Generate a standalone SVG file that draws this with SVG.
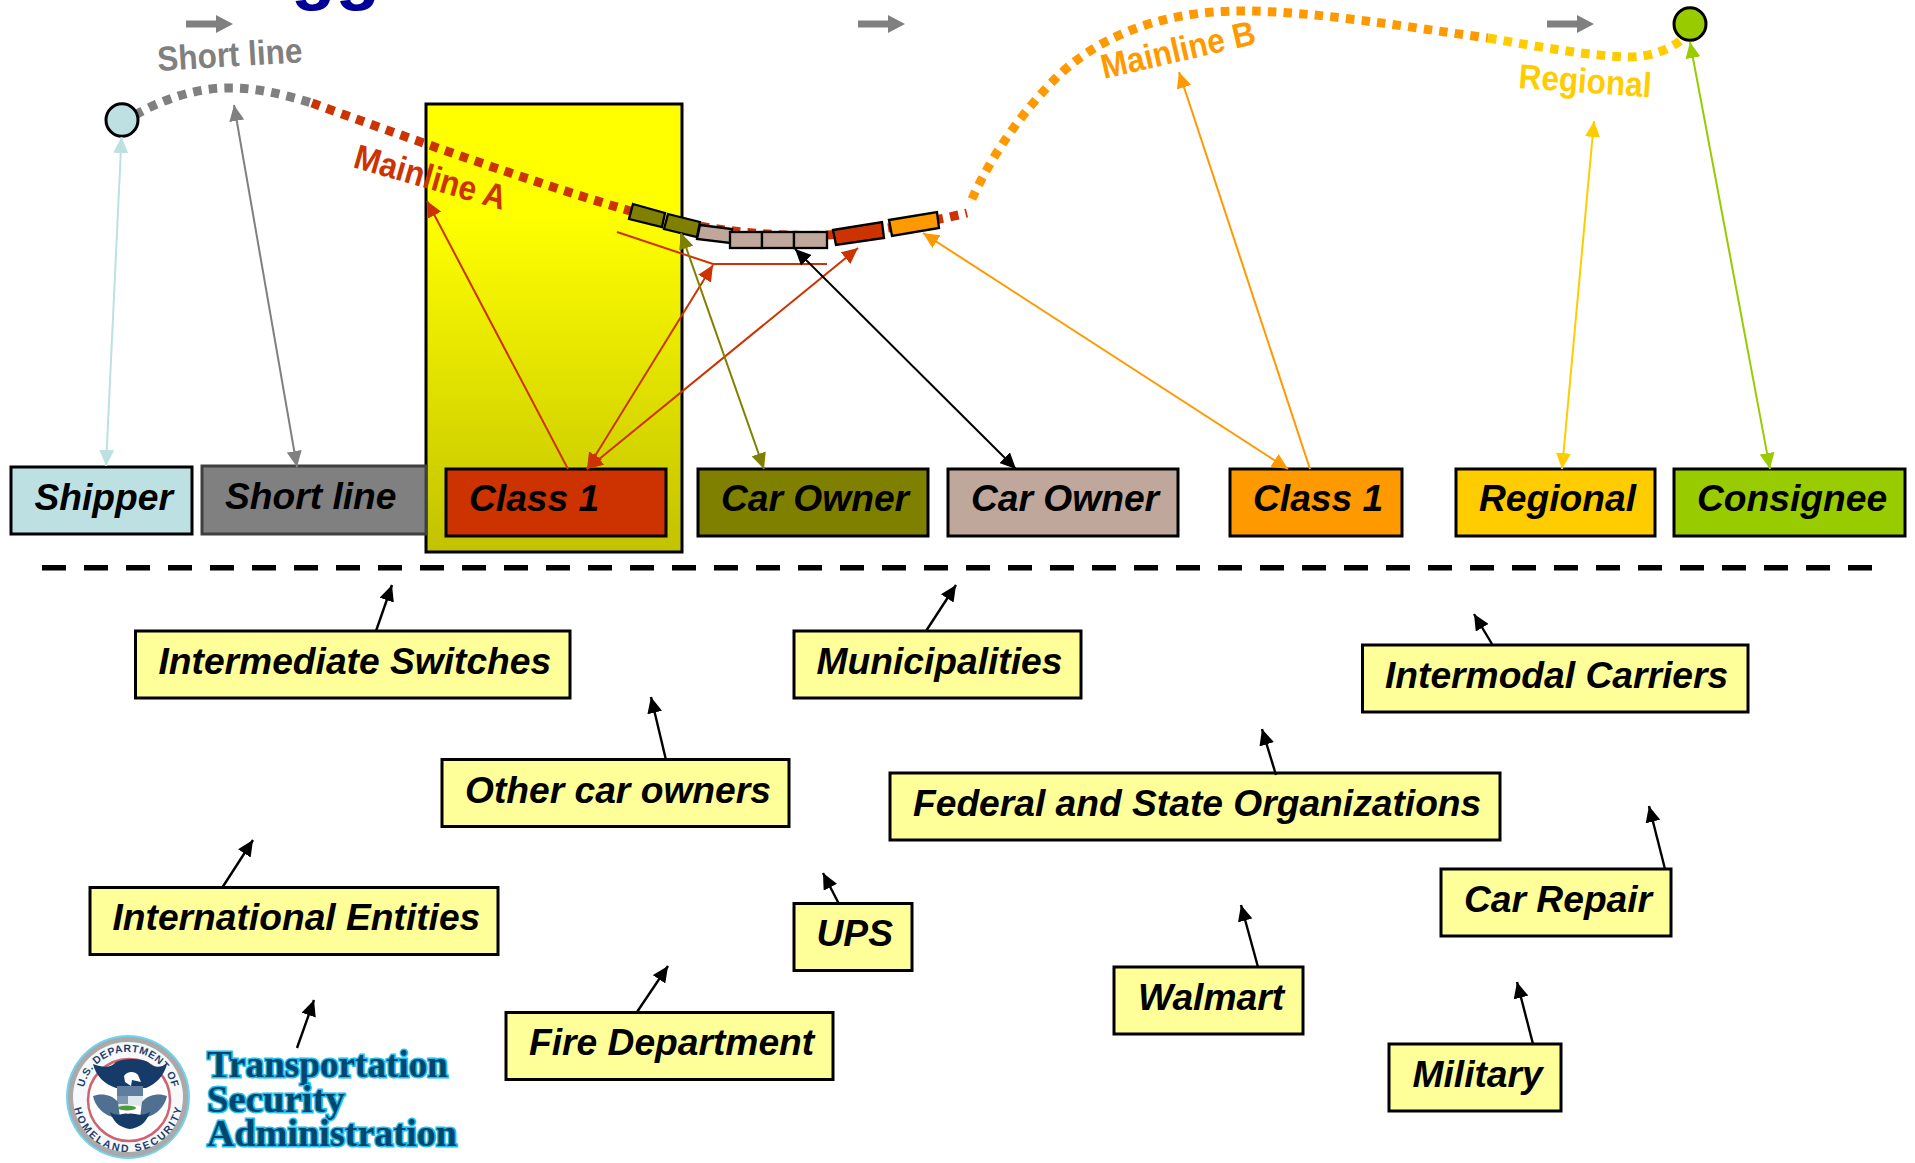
<svg xmlns="http://www.w3.org/2000/svg" width="1915" height="1163" viewBox="0 0 1915 1163">
<style>
.box{stroke:#000;stroke-width:3}
.lbl{font:italic bold 37.2px "Liberation Sans",Arial,sans-serif;fill:#000}
.cap{font:bold 31.5px "Liberation Sans",Arial,sans-serif}
.note{fill:#ffff99}
.dot{fill:none;stroke-width:9;stroke-dasharray:8.500 7.200}
.car{stroke:#000;stroke-width:2.300}
.a{fill:none;stroke-width:2}
.k{fill:none;stroke:#000;stroke-width:2.400;marker-end:url(#mk)}
.tsa{font:bold 37px "Liberation Serif","Times New Roman",serif;fill:#00476f;stroke:#22bff0;stroke-width:3;paint-order:stroke}
.seal{font:bold 10.500px "Liberation Sans",Arial,sans-serif;fill:#1d3f6e}
</style>
<defs>
<linearGradient id="yg" x1="0" y1="0" x2="0" y2="1"><stop offset="0" stop-color="#ffff00"/><stop offset="0.25" stop-color="#ffff00"/><stop offset="1" stop-color="#c2c200"/></linearGradient>
<filter id="soft" x="-5%" y="-5%" width="110%" height="110%"><feGaussianBlur stdDeviation="0.6"/></filter>
<marker id="mk" markerUnits="userSpaceOnUse" markerWidth="17" markerHeight="15" refX="16" refY="7.500" orient="auto"><path d="M0,0L16,7.500L0,15z" fill="#000"/></marker>
<marker id="m1" markerUnits="userSpaceOnUse" markerWidth="17" markerHeight="15" refX="16" refY="7.500" orient="auto-start-reverse"><path d="M0,0L16,7.500L0,15z" fill="#bde0e3"/></marker>
<marker id="m2" markerUnits="userSpaceOnUse" markerWidth="17" markerHeight="15" refX="16" refY="7.500" orient="auto-start-reverse"><path d="M0,0L16,7.500L0,15z" fill="#808080"/></marker>
<marker id="m3" markerUnits="userSpaceOnUse" markerWidth="17" markerHeight="15" refX="16" refY="7.500" orient="auto-start-reverse"><path d="M0,0L16,7.500L0,15z" fill="#cc3300"/></marker>
<marker id="m4" markerUnits="userSpaceOnUse" markerWidth="17" markerHeight="15" refX="16" refY="7.500" orient="auto-start-reverse"><path d="M0,0L16,7.500L0,15z" fill="#808000"/></marker>
<marker id="m5" markerUnits="userSpaceOnUse" markerWidth="17" markerHeight="15" refX="16" refY="7.500" orient="auto-start-reverse"><path d="M0,0L16,7.500L0,15z" fill="#000"/></marker>
<marker id="m6" markerUnits="userSpaceOnUse" markerWidth="17" markerHeight="15" refX="16" refY="7.500" orient="auto-start-reverse"><path d="M0,0L16,7.500L0,15z" fill="#ff9900"/></marker>
<marker id="m7" markerUnits="userSpaceOnUse" markerWidth="17" markerHeight="15" refX="16" refY="7.500" orient="auto-start-reverse"><path d="M0,0L16,7.500L0,15z" fill="#ffcc00"/></marker>
<marker id="m8" markerUnits="userSpaceOnUse" markerWidth="17" markerHeight="15" refX="16" refY="7.500" orient="auto-start-reverse"><path d="M0,0L16,7.500L0,15z" fill="#99cc00"/></marker>
<path id="block" d="M0,-3.500H30V-9L47,0L30,9V3.500H0z" fill="#808080"/>
<path id="sealTop" d="M83,1097A45,45 0 0 1 173,1097"/>
<path id="sealBot" d="M73,1097A55,55 0 0 0 183,1097"/>
</defs>
<rect width="1915" height="1163" fill="#fff"/>
<text x="291" y="-4" font-family="Liberation Sans,Arial,sans-serif" font-weight="bold" font-size="73" fill="#000099">gg</text>
<use href="#block" x="186" y="24"/><use href="#block" x="858" y="24"/><use href="#block" x="1547" y="24"/>

<rect id="highlight" x="426" y="104" width="256" height="448" fill="url(#yg)" stroke="#000" stroke-width="3"/>

<g id="routes">
<path class="dot" stroke="#808080" d="M135,115C165,98 200,87 232,88C258,88 285,95 312,103"/>
<path class="dot" stroke="#cc3300" d="M312,103C400,135 520,178 620,208C680,226 760,238 828,235C870,232 930,222 967,213"/>
<path class="dot" stroke="#ff9900" d="M972,199C985,170 1010,125 1055,79C1090,44 1150,10 1246,11C1320,12 1400,26 1488,38"/>
<path class="dot" stroke="#ffcc00" d="M1488,38C1540,47 1590,56 1628,57C1650,57 1668,50 1680,41"/>
</g>

<g id="route-labels" class="cap">
<text transform="translate(158,71) rotate(-3.5) scale(1,1.1)" fill="#808080">Short line</text>
<text transform="translate(352,167) rotate(16) scale(1,1.1)" fill="#cc3300">Mainline A</text>
<text transform="translate(1104,79) rotate(-13) scale(1,1.1)" fill="#ff9900">Mainline B</text>
<text transform="translate(1518,88) rotate(4) scale(1,1.1)" fill="#ffcc00">Regional</text>
</g>

<g id="train">
<path class="car" fill="#808000" d="M633,204L665,213L662,227L629,219z"/>
<path class="car" fill="#808000" d="M668,214L700,222L697,237L664,229z"/>
<path class="car" fill="#bfa89b" d="M700,225L732,229L730,243L697,239z"/>
<rect class="car" fill="#bfa89b" x="730" y="232" width="32" height="16"/>
<rect class="car" fill="#bfa89b" x="762" y="232" width="32" height="16"/>
<rect class="car" fill="#bfa89b" x="794" y="232" width="33" height="16"/>
<path class="car" fill="#cc3300" d="M833,230L882,222L884,238L836,245z"/>
<path class="car" fill="#ff9900" d="M889,220L937,212L939,228L892,236z"/>
</g>

<g id="origin"><ellipse cx="122" cy="120" rx="16" ry="16.300" fill="#bde0e3" stroke="#000" stroke-width="3"/></g>
<g id="destination"><ellipse cx="1690" cy="24" rx="16" ry="16.300" fill="#99cc00" stroke="#000" stroke-width="3"/></g>

<g id="n-shipper"><rect class="box" x="11" y="467" width="181" height="67" fill="#bde0e3"/><text class="lbl" x="34.500" y="510">Shipper</text></g>
<g id="n-shortline"><rect x="202" y="466" width="224" height="68" fill="#808080" stroke="#404040" stroke-width="3"/><text class="lbl" x="225" y="509">Short line</text></g>
<g id="n-class1a"><rect class="box" x="446" y="469" width="220" height="67" fill="#cc3300"/><text class="lbl" x="469" y="511">Class 1</text></g>
<g id="n-carowner1"><rect class="box" x="698" y="469" width="230" height="67" fill="#808000"/><text class="lbl" x="721" y="511">Car Owner</text></g>
<g id="n-carowner2"><rect class="box" x="948" y="469" width="230" height="67" fill="#bfa89b"/><text class="lbl" x="971" y="511">Car Owner</text></g>
<g id="n-class1b"><rect class="box" x="1230" y="469" width="172" height="67" fill="#ff9900"/><text class="lbl" x="1253" y="511">Class 1</text></g>
<g id="n-regional"><rect class="box" x="1456" y="469" width="199" height="67" fill="#ffcc00"/><text class="lbl" x="1479" y="511">Regional</text></g>
<g id="n-consignee"><rect class="box" x="1674" y="469" width="231" height="67" fill="#99cc00"/><text class="lbl" x="1697" y="511">Consignee</text></g>

<path id="divider" d="M42,567.700H1872" stroke="#000" stroke-width="5.500" fill="none" stroke-dasharray="24 18"/>

<g id="n-switches"><rect class="box note" x="135.500" y="631" width="434.500" height="67"/><text class="lbl" x="158.500" y="674">Intermediate Switches</text></g>
<g id="n-municipalities"><rect class="box note" x="794" y="631" width="287" height="67"/><text class="lbl" x="816.500" y="674">Municipalities</text></g>
<g id="n-intermodal"><rect class="box note" x="1362.500" y="645" width="385.500" height="67"/><text class="lbl" x="1385" y="687.500">Intermodal Carriers</text></g>
<g id="n-other"><rect class="box note" x="442" y="759.500" width="347" height="67"/><text class="lbl" x="465" y="802.500">Other car owners</text></g>
<g id="n-federal"><rect class="box note" x="890" y="773" width="610" height="67"/><text class="lbl" x="913" y="815.500">Federal and State Organizations</text></g>
<g id="n-international"><rect class="box note" x="90" y="887.500" width="408" height="67"/><text class="lbl" x="112.500" y="930">International Entities</text></g>
<g id="n-ups"><rect class="box note" x="794" y="903.500" width="118" height="67"/><text class="lbl" x="816.500" y="946">UPS</text></g>
<g id="n-carrepair"><rect class="box note" x="1441" y="869" width="230" height="67"/><text class="lbl" x="1464" y="911.500">Car Repair</text></g>
<g id="n-walmart"><rect class="box note" x="1114" y="967" width="189" height="67"/><text class="lbl" x="1138" y="1010">Walmart</text></g>
<g id="n-fire"><rect class="box note" x="506" y="1012.500" width="327" height="67"/><text class="lbl" x="529" y="1055">Fire Department</text></g>
<g id="n-military"><rect class="box note" x="1389" y="1044" width="172" height="67"/><text class="lbl" x="1412.500" y="1087">Military</text></g>

<g id="connectors">
<path class="a" stroke="#bde0e3" marker-start="url(#m1)" marker-end="url(#m1)" d="M106,466L121.500,137"/>
<path class="a" stroke="#808080" marker-start="url(#m2)" marker-end="url(#m2)" d="M297,467L234,105"/>
<path class="a" stroke="#cc3300" marker-end="url(#m3)" d="M568,469L427,201"/>
<path class="a" stroke="#cc3300" marker-start="url(#m3)" marker-end="url(#m3)" d="M587,469L713,265"/>
<path class="a" stroke="#cc3300" marker-start="url(#m3)" marker-end="url(#m3)" d="M587,469L858,248"/>
<path class="a" stroke="#cc3300" d="M617,232L713,264H827"/>
<path class="a" stroke="#808000" marker-start="url(#m4)" marker-end="url(#m4)" d="M764,469L681,233"/>
<path class="a" stroke="#000" marker-start="url(#m5)" marker-end="url(#m5)" d="M1016,469L795,249"/>
<path class="a" stroke="#ff9900" marker-start="url(#m6)" marker-end="url(#m6)" d="M1288,469L923,233"/>
<path class="a" stroke="#ff9900" marker-end="url(#m6)" d="M1310,469L1179,72"/>
<path class="a" stroke="#ffcc00" marker-start="url(#m7)" marker-end="url(#m7)" d="M1562,469L1594,121"/>
<path class="a" stroke="#99cc00" marker-start="url(#m8)" marker-end="url(#m8)" d="M1770,469L1690,42"/>
<path class="k" d="M376,631L392,585"/>
<path class="k" d="M926,631L956,585"/>
<path class="k" d="M1492,644L1474,614"/>
<path class="k" d="M666,760L651,697"/>
<path class="k" d="M1276,775L1262,729"/>
<path class="k" d="M222,888L253,840"/>
<path class="k" d="M839,904L823,873"/>
<path class="k" d="M1665,869L1649,806"/>
<path class="k" d="M1258,967L1241,905"/>
<path class="k" d="M637,1012L668,966"/>
<path class="k" d="M1533,1044L1517,982"/>
<path class="k" d="M297,1048L314,1000"/>
</g>

<g id="tsa-logo">
<g filter="url(#soft)">
<circle cx="128" cy="1097" r="62" fill="#6fd3f2"/>
<circle cx="128" cy="1097" r="60" fill="#a9a9a9"/>
<circle cx="128" cy="1097" r="55" fill="#f7f8fa"/>
<circle cx="129" cy="1100" r="41" fill="#fff" stroke="#cf6470" stroke-width="2.500"/>
<path d="M93,1064C104,1068 110,1068 116,1062C124,1058 140,1058 148,1062C154,1068 160,1068 167,1064C164,1076 156,1084 146,1088H116C104,1084 96,1076 93,1064z" fill="#123a68"/>
<path d="M124,1076C127,1071 135,1071 138,1075L141,1082L132,1080L131,1086L125,1082z" fill="#fff"/>
<path d="M117,1086H143V1096H117z" fill="#5f7d9e"/>
<path d="M117,1096H143V1108C138,1104 124,1104 117,1108z" fill="#dfe8ef"/>
<path d="M117,1096H128V1104H117z" fill="#7f97b0"/>
<path d="M93,1096C100,1093 112,1094 118,1102L120,1118C108,1118 96,1110 93,1096zM167,1096C160,1093 148,1094 142,1102L140,1118C152,1118 164,1110 167,1096z" fill="#4f6f90"/>
<path d="M110,1112C118,1118 124,1112 128,1114C134,1112 140,1118 150,1112C146,1124 138,1128 130,1129C122,1128 114,1124 110,1112z" fill="#123a68"/>
<ellipse cx="127" cy="1108" rx="9" ry="2.500" fill="#4d9b3a"/>
</g>
<text class="seal"><textPath href="#sealTop" startOffset="50%" text-anchor="middle" textLength="122">U.S. DEPARTMENT OF</textPath></text>
<text class="seal"><textPath href="#sealBot" startOffset="50%" text-anchor="middle" textLength="150">HOMELAND SECURITY</textPath></text>
<text class="tsa" x="207" y="1077" textLength="241" lengthAdjust="spacingAndGlyphs">Transportation</text>
<text class="tsa" x="207" y="1112" textLength="138" lengthAdjust="spacingAndGlyphs">Security</text>
<text class="tsa" x="207" y="1146" textLength="250" lengthAdjust="spacingAndGlyphs">Administration</text>
</g>
</svg>
